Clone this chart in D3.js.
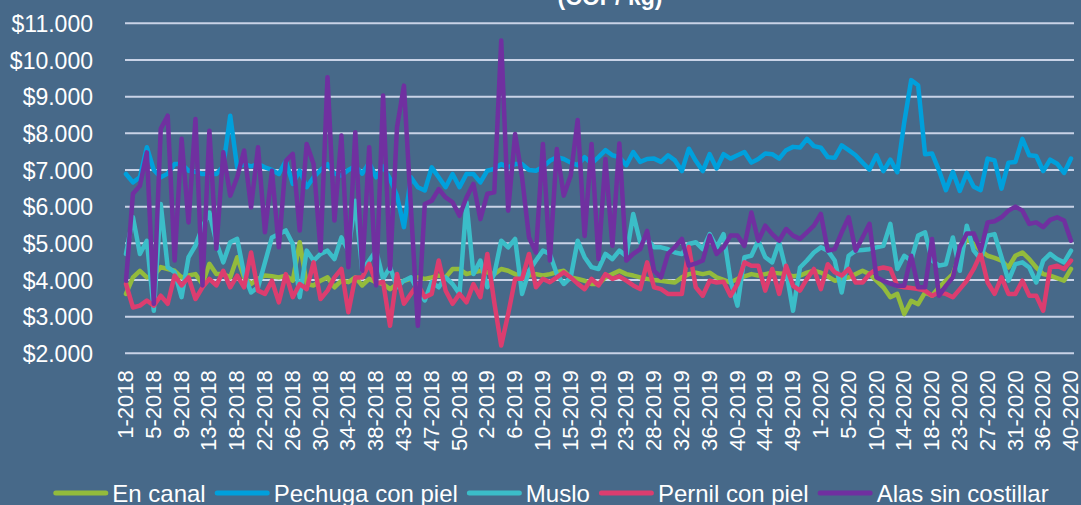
<!DOCTYPE html>
<html>
<head>
<meta charset="utf-8">
<script src="https://cdnjs.cloudflare.com/ajax/libs/d3/7.8.5/d3.min.js"></script>
<style>
  body { margin: 0; background: #476989; overflow: hidden; }
  text { font-family: "Liberation Sans", Arial, sans-serif; fill: #ffffff; }
</style>
</head>
<body>
<div id="container"></div>
<script>
// Week numbers per year (as shown on the category axis)
var weeks2018 = [1,2,3,4,5,6,7,8,9,10,11,12,13,14,15,17,18,19,20,21,22,23,24,25,26,27,28,29,30,31,32,33,
                 34,35,36,37,38,39,40,42,43,44,45,46,47,48,49,49,50,51,52];
var weeks2019 = [1,2,3,4,5,6,7,8,9,10,11,12,14,15,16,17,18,19,20,21,22,23,24,25,27,28,29,30,31,32,33,34,35,
                 36,37,38,39,40,41,42,43,44,45,46,48,49,50,51,52];
var weeks2020 = [1,2,3,4,5,6,7,9,10,11,12,13,14,15,16,17,18,19,20,22,23,24,25,26,27,28,29,30,31,32,33,35,
                 36,37,38,39,40];

var categories = weeks2018.map(function(w) { return w + "-2018"; })
    .concat(weeks2019.map(function(w) { return w + "-2019"; }))
    .concat(weeks2020.map(function(w) { return w + "-2020"; }));

var seriesNames = ["En canal", "Pechuga con piel", "Muslo", "Pernil con piel", "Alas sin costillar"];
var seriesColors = ["#93bb3c", "#00a0dc", "#3bbdc8", "#dc3d6f", "#7030a0"];

var yTicks = [2000, 3000, 4000, 5000, 6000, 7000, 8000, 9000, 10000, 11000];

// Prices (COP/kg)
var enCanal = [3620, 4070, 4250, 4070, 4120, 4350, 4300, 4250, 4070, 4120,
    4160, 3890, 4440, 4160, 4160, 4070, 4620, 4070, 3890, 4030,
    4120, 4100, 4070, 4120, 3980, 5030, 3890, 3850, 3980, 4070,
    3800, 3980, 3940, 4070, 3850, 4030, 3940, 3890, 3750, 3890,
    3980, 4030, 4070, 4030, 4070, 4120, 4070, 4300, 4300, 4160,
    4210, 4250, 4210, 4160, 4300, 4250, 4160, 4070, 4120, 4160,
    4120, 4160, 4210, 4250, 4070, 4030, 3980, 3890, 3890, 4070,
    4160, 4250, 4160, 4120, 4070, 4030, 4000, 3980, 3950, 3930,
    4070, 4160, 4200, 4160, 4200, 4070, 4000, 3930, 4030, 4100,
    4160, 4120, 4160, 4200, 4180, 4160, 4100, 4120, 4200, 4250,
    4200, 4100, 3980, 4030, 4070, 4160, 4250, 4160, 3980, 3800,
    3530, 3620, 3070, 3430, 3340, 3660, 3570, 3800, 3980, 4160,
    4710, 5120, 4980, 4800, 4660, 4600, 4530, 4340, 4660, 4750,
    4570, 4340, 4160, 4120, 4050, 3980, 4300];

var pechuga = [6890, 6660, 6800, 7620, 7000, 6800, 6900, 7160, 7160, 6980,
    6950, 6890, 6900, 6890, 7100, 8480, 7070, 7160, 7100, 7160,
    7070, 7000, 6890, 7250, 6620, 6980, 6530, 6800, 7000, 7160,
    6900, 6850, 7000, 7100, 6900, 7200, 6800, 7100, 6750, 6300,
    5440, 6800, 6530, 6440, 7070, 6800, 6530, 6890, 6530, 6890,
    6890, 6660, 6980, 7030, 7160, 7070, 7160, 7160, 7000, 6980,
    7080, 7250, 7350, 7300, 7200, 7130, 7350, 7170, 7350, 7540,
    7400, 7350, 7130, 7490, 7220, 7300, 7310, 7220, 7400, 7260,
    6970, 7580, 7250, 6970, 7430, 7040, 7430, 7310, 7400, 7490,
    7200, 7300, 7450, 7430, 7310, 7540, 7630, 7610, 7850, 7650,
    7610, 7350, 7330, 7670, 7540, 7400, 7200, 7010, 7400, 6970,
    7280, 6940, 8300, 9450, 9310, 7430, 7450, 6990, 6450, 6950,
    6430, 6920, 6540, 6450, 7310, 7260, 6490, 7200, 7220, 7850,
    7400, 7380, 6970, 7280, 7170, 6920, 7310];

var muslo = [4710, 5710, 4710, 5070, 3160, 6070, 4350, 4210, 3530, 4620,
    4940, 5440, 5840, 5030, 4480, 5030, 5120, 4160, 3660, 3800,
    4480, 5160, 5250, 5350, 4980, 3530, 4800, 4530, 4710, 4800,
    4570, 5160, 4800, 6160, 4250, 4530, 4800, 4030, 4350, 3800,
    3980, 4070, 3710, 3440, 3940, 3800, 4070, 3890, 3620, 6120,
    4160, 4530, 3800, 4160, 5070, 4890, 5120, 3620, 4250, 4530,
    4800, 4710, 4160, 3890, 4070, 5070, 4620, 4350, 4300, 4710,
    4570, 4800, 4650, 5800, 5030, 5120, 4890, 4890, 4840, 4750,
    4710, 4980, 5030, 4840, 5250, 4890, 5250, 3980, 3300, 4620,
    4660, 5070, 4620, 4480, 5030, 4250, 3160, 4340, 4530, 4750,
    4890, 4800, 4530, 3660, 4660, 4800, 4820, 4840, 4890, 4930,
    5530, 4300, 4660, 4530, 5210, 5300, 4530, 4390, 4430, 5160,
    4250, 5480, 4800, 4570, 5210, 5250, 4620, 3980, 4430, 4480,
    4340, 3930, 4530, 4710, 4570, 4480, 4800];

var pernil = [3890, 3250, 3300, 3440, 3300, 3570, 3350, 4120, 3850, 4070,
    3480, 3800, 4030, 3850, 4250, 3800, 4120, 3800, 4750, 3710,
    3620, 3980, 3390, 4160, 3530, 3890, 3750, 4480, 3480, 3710,
    4070, 4300, 3120, 4070, 4070, 4440, 3900, 3950, 2750, 4160,
    3350, 3620, 3890, 3530, 3620, 4530, 3710, 3350, 3620, 3390,
    3890, 3530, 4710, 3390, 2210, 3070, 4030, 4030, 4710, 3800,
    4030, 3940, 4070, 4210, 4070, 3900, 3750, 4030, 3850, 4160,
    4030, 4100, 3980, 3850, 3750, 4480, 3800, 3750, 3620, 3620,
    3620, 4900, 3800, 3570, 3980, 3930, 3950, 3570, 3890, 4480,
    4390, 4390, 3710, 4300, 3620, 4390, 3840, 3710, 4030, 4300,
    3750, 4430, 4210, 4120, 4300, 3930, 3930, 4160, 4300, 4340,
    4300, 3840, 3800, 3780, 3750, 3710, 3570, 3660, 3620, 3530,
    3750, 3980, 4300, 4710, 3930, 3620, 4070, 3620, 3620, 3980,
    3570, 3570, 3160, 4340, 4390, 4300, 4530];

var alas = [3980, 6350, 6570, 7480, 3350, 8120, 8480, 4530, 7850, 5570,
    8390, 3850, 8070, 4850, 7480, 6300, 6800, 7530, 5980, 7620,
    5300, 6980, 4890, 7250, 7440, 5350, 7710, 7160, 4800, 9530,
    5620, 7940, 4350, 8030, 4250, 7620, 3850, 9030, 4300, 8160,
    9300, 5980, 2750, 6070, 6160, 6480, 6250, 6120, 5750, 6250,
    6620, 5660, 6350, 6390, 10530, 5890, 7980, 6800, 5160, 4750,
    7710, 4530, 7570, 6300, 6850, 8360, 5200, 7710, 4570, 7300,
    4930, 7720, 4530, 4710, 4840, 5340, 4250, 4070, 4710, 4900,
    5120, 4390, 4450, 4530, 5210, 4710, 4890, 5210, 5210, 4930,
    5840, 5070, 5480, 5250, 5070, 5390, 5210, 5120, 5300, 5480,
    5800, 4800, 4840, 5300, 5710, 4800, 5160, 5530, 4070, 3980,
    3900, 3840, 3840, 4660, 3800, 3800, 5120, 3570, 3840, 4070,
    4890, 5270, 5270, 4800, 5570, 5600, 5710, 5890, 6000, 5890,
    5530, 5570, 5440, 5640, 5710, 5620, 5070];

var series = [enCanal, pechuga, muslo, pernil, alas];

// SVG dimensions
var width = 1081,
    height = 505;

var svg = d3.select("#container")
    .append("svg")
    .attr("width", width)
    .attr("height", height);

var plot = { left: 125, right: 1074, top: 23.3, bottom: 353.3 };

// first and last week sit on the plot edges
var xScale = d3.scalePoint()
    .domain(d3.range(categories.length))
    .range([plot.left + 1, plot.right - 3]);

var yScale = d3.scaleLinear()
    .domain([2000, 11000])
    .range([plot.bottom, plot.top]);

var money = d3.formatLocale({ decimal: ",", thousands: ".", grouping: [3], currency: ["$", ""] }).format("$,.0f");

// Title (only its last line is inside the picture)
svg.append("text")
    .attr("x", 610)
    .attr("y", 5)
    .attr("text-anchor", "middle")
    .style("font-size", "23px")
    .style("font-weight", "bold")
    .text("(COP/ kg)");

// Horizontal gridlines
svg.selectAll(".grid")
    .data(yTicks)
    .enter()
    .append("line")
    .attr("class", "grid")
    .attr("x1", plot.left)
    .attr("x2", plot.right)
    .attr("y1", function(d) { return yScale(d); })
    .attr("y2", function(d) { return yScale(d); })
    .attr("stroke", "#c9d3e7")
    .attr("stroke-width", 2);

// Y axis labels
var yAxis = svg.append("g")
    .attr("transform", "translate(93,0)")
    .call(d3.axisLeft(yScale).tickValues(yTicks).tickSize(0).tickPadding(0).tickFormat(money));
yAxis.select(".domain").remove();
yAxis.selectAll("text")
    .attr("dy", "0.36em")
    .style("font-size", "23px")
    .style("font-family", "'Liberation Sans', Arial, sans-serif")
    .attr("fill", "#ffffff");

// X axis labels, one every 4 weeks
var xTickIdx = d3.range(0, categories.length, 4);
var xAxis = svg.append("g")
    .attr("transform", "translate(0," + plot.bottom + ")")
    .call(d3.axisBottom(xScale).tickValues(xTickIdx).tickSize(0)
        .tickFormat(function(i) { return categories[i]; }));
xAxis.select(".domain").remove();
xAxis.selectAll("text")
    .attr("transform", "rotate(-90)")
    .attr("x", -17)
    .attr("y", 0)
    .attr("dy", "0.3em")
    .attr("text-anchor", "end")
    .style("font-size", "22px")
    .style("font-family", "'Liberation Sans', Arial, sans-serif")
    .attr("fill", "#ffffff");

// Series lines
var line = d3.line()
    .x(function(d, i) { return xScale(i); })
    .y(function(d) { return yScale(d); });

svg.selectAll(".series")
    .data(series)
    .enter()
    .append("path")
    .attr("class", "series")
    .attr("d", line)
    .attr("fill", "none")
    .attr("stroke", function(d, i) { return seriesColors[i]; })
    .attr("stroke-width", 4.5)
    .attr("stroke-linejoin", "round")
    .attr("stroke-linecap", "round");

// Legend, centred under the chart
var legend = svg.append("g");
var swatch = 55, gapText = 4, gapItem = 9, legendY = 493;
var items = legend.selectAll("g")
    .data(seriesNames)
    .enter()
    .append("g");
items.append("line")
    .attr("x1", 2.5)
    .attr("x2", swatch - 2.5)
    .attr("y1", 0)
    .attr("y2", 0)
    .attr("stroke", function(d, i) { return seriesColors[i]; })
    .attr("stroke-width", 5)
    .attr("stroke-linecap", "round");
items.append("text")
    .attr("x", swatch + gapText)
    .attr("y", 0)
    .attr("dy", "0.36em")
    .style("font-size", "24px")
    .text(function(d) { return d; });

var offsets = [], total = 0;
items.each(function() {
    var w = swatch + gapText + d3.select(this).select("text").node().getComputedTextLength();
    offsets.push(total);
    total += w + gapItem;
});
total -= gapItem;
var startX = 551 - total / 2;
items.attr("transform", function(d, i) { return "translate(" + (startX + offsets[i]) + "," + legendY + ")"; });
</script>
</body>
</html>
